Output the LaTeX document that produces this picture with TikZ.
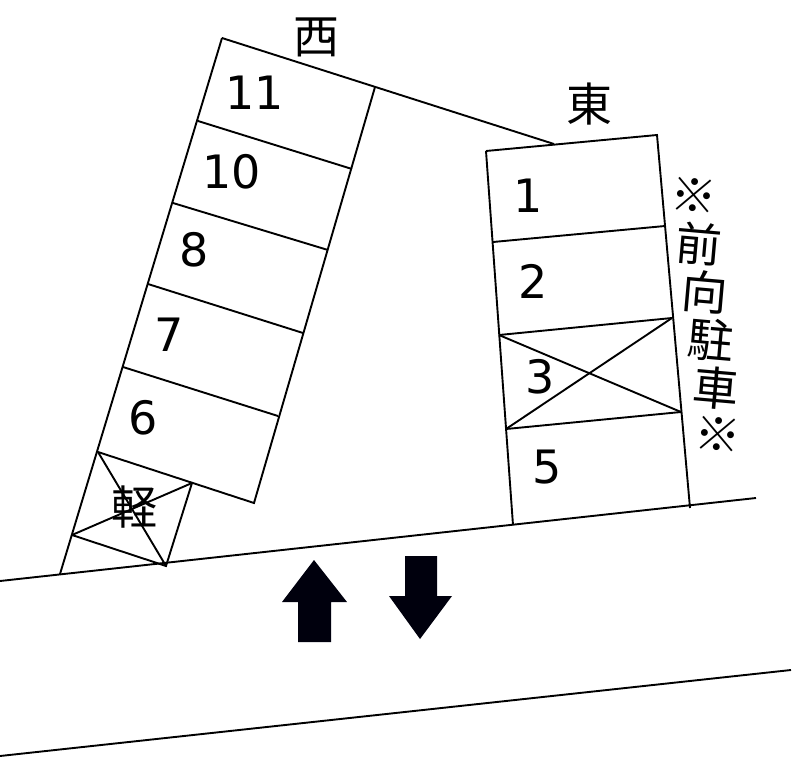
\documentclass[tikz,border=0pt]{standalone}
\usepackage{fontspec}
\setmainfont{DejaVu Sans}
\newfontfamily\jpfont{Noto Sans CJK JP}
\tikzset{
    plan/.style={draw=black, line width=1.9pt},
    num/.style={font=\fontsize{46}{46}\selectfont, inner sep=0pt},
    kanji/.style={font=\fontsize{46}{46}\selectfont\jpfont, inner sep=0pt},
    sidekanji/.style={kanji, rotate=-5}}
\begin{document}
\begin{tikzpicture}[x=1pt, y=-1pt]
        \useasboundingbox (0,0) rectangle (798,777);

            % west block
            \coordinate (WA) at (222,38);
            \coordinate (WB) at (375,87);
            \coordinate (WC) at (254,503);
            \coordinate (WD) at (60,574);
            \coordinate (KA) at (98,452);
            \coordinate (KB) at (192,483);
            \coordinate (KC) at (166,566);
            \coordinate (KD) at (72,535);

            % east block
            \coordinate (EA) at (486,151);
            \coordinate (EB) at (657,135);
            \coordinate (EC) at (690,508);
            \coordinate (ED) at (513,525);
            \coordinate (XA) at (499,335);
            \coordinate (XB) at (672,318);
            \coordinate (XC) at (681,412);
            \coordinate (XD) at (506,429);

            % road edges
            \coordinate (RA) at (0,581);
            \coordinate (RB) at (756,498);
            \coordinate (RC) at (0,756);
            \coordinate (RD) at (791,670);
            \coordinate (T) at (554,144);

            \draw[plan] (RA) -- (RB);
            \draw[plan] (RC) -- (RD);
            \draw[plan] (WA) -- (T);
            \draw[plan] (WA) -- (WD);
            \draw[plan] (WB) -- (WC) -- (KA);
            \draw[plan] (198,121) -- (352,169);
            \draw[plan] (173,203) -- (328,250);
            \draw[plan] (148,284) -- (303,333);
            \draw[plan] (123,367) -- (278,416);
            \draw[plan] (KB) -- (KC) -- (KD);
            \draw[plan] (KA) -- (KC);
            \draw[plan] (KB) -- (KD);

            \draw[plan] (EA) -- (EB) -- (EC);
            \draw[plan] (EA) -- (ED);
            \draw[plan] (493,242) -- (665,226);
            \draw[plan] (XA) -- (XB);
            \draw[plan] (XD) -- (XC);
            \draw[plan] (XA) -- (XC);
            \draw[plan] (XD) -- (XB);

            % arrows
            \fill[black!95!blue] (314,560) -- (347,602) -- (331,602) -- (331,642) -- (298,642) -- (298,602) -- (282,602) -- cycle;
            \fill[black!95!blue] (405,556) -- (437,556) -- (437,596) -- (452,596) -- (420,639) -- (389,596) -- (405,596) -- cycle;

            \node[num] (n11) at (255,93) {11};
            \node[num] (n10) at (232,172) {10};
            \node[num] (n8) at (194,250) {8};
            \node[num] (n7) at (169,335) {7};
            \node[num] (n6) at (143,418) {6};
            \node[num] (n1) at (528,196) {1};
            \node[num] (n2) at (533,281) {2};
            \node[num] (n3) at (540,377) {3};
            \node[num] (n5) at (547,467) {5};

            \node[kanji] (west) at (316,37) {西};
            \node[kanji] (east) at (589,104) {東};
            \node[kanji] (kei) at (134,507) {軽};

            \node[sidekanji] (s1) at (694,196) {※};
            \node[sidekanji] (s2) at (699,244) {前};
            \node[sidekanji] (s3) at (705,292) {向};
            \node[sidekanji] (s4) at (711,340) {駐};
            \node[sidekanji] (s5) at (716,388) {車};
            \node[sidekanji] (s6) at (718,435) {※};

        \end{tikzpicture}
\end{document}
